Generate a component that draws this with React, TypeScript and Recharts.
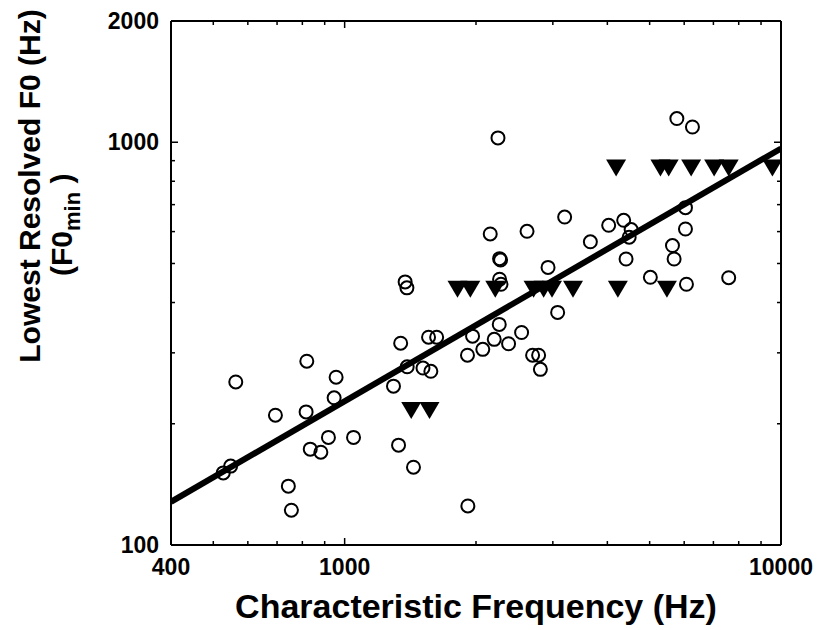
import { ComposedChart, Scatter, Line, XAxis, YAxis } from "recharts";

// open circles: [characteristic frequency (Hz), lowest resolved F0 (Hz)]
const measured: [number, number][] = [
  [563, 254], [527, 151], [548, 157], [694, 210], [819, 286], [816, 214],
  [956, 261], [946, 232], [834, 173], [882, 170], [918, 185], [1048, 185],
  [743, 140], [755, 122], [1344, 317], [1391, 277], [1294, 248], [1329, 177],
  [1438, 156], [1557, 328], [1625, 328], [1512, 275], [1576, 270], [1912, 296],
  [1916, 125], [1376, 450], [1389, 435], [2246, 1025], [5772, 1145], [6267, 1091],
  [3193, 652], [2156, 592], [2618, 601], [4028, 622], [4360, 640], [4535, 607],
  [4488, 581], [3657, 566], [6040, 688], [6040, 609], [5640, 554], [5689, 513],
  [4415, 513], [2265, 514], [2277, 510], [2925, 489], [2265, 457], [2282, 444],
  [5019, 462], [6072, 444], [7588, 461], [3077, 378], [2261, 353], [2544, 337],
  [1964, 330], [2202, 324], [2375, 316], [2073, 306], [2696, 296], [2783, 296],
  [2809, 273],
];

// filled triangles: upper limits
const limitCF = [1421, 1565, 1814, 1941, 2214, 2710, 2858, 2987, 3337, 4228, 5477, 4189, 5293, 5528, 6224, 7027, 7588, 9556];
const limitF0 = [220, 220, 440, 440, 440, 440, 440, 440, 440, 440, 440, 880, 880, 880, 880, 880, 880, 880];

// regression line end points
const fitCF = [400, 10000];
const fitF0 = [128, 965];

const xTicks = [400, 500, 600, 700, 800, 900, 1000, 2000, 3000, 4000, 5000, 6000, 7000, 8000, 9000, 10000];
const yTicks = [100, 200, 300, 400, 500, 600, 700, 800, 900, 1000, 2000];
const xLabels = [400, 1000, 10000];
const yLabels = [100, 1000, 2000];

const circleData = measured.map(([x, y]) => ({ x, y }));
const triData = limitCF.map((x, i) => ({ x, y: limitF0[i] }));
const fitData = fitCF.map((x, i) => ({ x, y: fitF0[i] }));

const FONT = "'Liberation Sans', Arial, Helvetica, sans-serif";
const axisLine = { stroke: "#000", strokeWidth: 2 };

function tickLen(v: number, labels: number[]) {
  return labels.includes(v) ? 7 : 4;
}

const BottomTick = (p: any) => {
  const v = p.payload.value;
  return (
    <g>
      <line x1={p.x} y1={p.y} x2={p.x} y2={p.y - tickLen(v, xLabels)} stroke="#000" strokeWidth={1.5} />
      {xLabels.includes(v) && (
        <text x={p.x} y={p.y + 30} textAnchor="middle" fontFamily={FONT} fontWeight="bold" fontSize={23} fill="#000">
          {v}
        </text>
      )}
    </g>
  );
};

const TopTick = (p: any) => (
  <line x1={p.x} y1={p.y} x2={p.x} y2={p.y + tickLen(p.payload.value, xLabels)} stroke="#000" strokeWidth={1.5} />
);

const LeftTick = (p: any) => {
  const v = p.payload.value;
  return (
    <g>
      <line x1={p.x} y1={p.y} x2={p.x + tickLen(v, yLabels)} y2={p.y} stroke="#000" strokeWidth={1.5} />
      {yLabels.includes(v) && (
        <text x={p.x - 12} y={p.y + 8} textAnchor="end" fontFamily={FONT} fontWeight="bold" fontSize={23} fill="#000">
          {v}
        </text>
      )}
    </g>
  );
};

const RightTick = (p: any) => (
  <line x1={p.x} y1={p.y} x2={p.x - tickLen(p.payload.value, yLabels)} y2={p.y} stroke="#000" strokeWidth={1.5} />
);

const OpenCircle = (p: any) => <circle cx={p.cx} cy={p.cy} r={6.5} fill="none" stroke="#000" strokeWidth={2} />;

const DownTriangle = (p: any) => (
  <path d={`M${p.cx - 10},${p.cy - 5} L${p.cx + 10},${p.cy - 5} L${p.cx},${p.cy + 12} Z`} fill="#000" />
);

const XTitle = (p: any) => {
  const vb = p.viewBox;
  return (
    <text x={vb.x + vb.width / 2} y={vb.y + 73} textAnchor="middle" fontFamily={FONT} fontWeight="bold" fontSize={34} fill="#000">
      Characteristic Frequency (Hz)
    </text>
  );
};

const YTitle = () => (
  <g fontFamily={FONT} fontWeight="bold" fill="#000">
    <text transform="translate(40,186) rotate(-90)" textAnchor="middle" fontSize={30}>
      Lowest Resolved F0 (Hz)
    </text>
    <text transform="translate(72,276) rotate(-90)" textAnchor="start" fontSize={30}>
      (F0
      <tspan fontSize={22} dy={8}>min</tspan>
      <tspan dy={-8}> )</tspan>
    </text>
  </g>
);

export default function App() {
  return (
    <div style={{ position: "absolute", left: 0, top: 0, background: "#fff" }}>
      <ComposedChart width={819} height={630} margin={{ top: 20, right: 37, bottom: 0, left: 0 }}>
        <XAxis
          xAxisId="b"
          type="number"
          dataKey="x"
          scale="log"
          domain={[400, 10000]}
          allowDataOverflow
          ticks={xTicks}
          interval={0}
          height={85}
          tickSize={0}
          tickMargin={0}
          tickLine={false}
          axisLine={axisLine}
          tick={<BottomTick />}
          label={<XTitle />}
        />
        <XAxis
          xAxisId="t"
          orientation="top"
          type="number"
          dataKey="x"
          scale="log"
          domain={[400, 10000]}
          allowDataOverflow
          ticks={xTicks}
          interval={0}
          height={1}
          tickSize={0}
          tickMargin={0}
          tickLine={false}
          axisLine={axisLine}
          tick={<TopTick />}
        />
        <YAxis
          yAxisId="l"
          type="number"
          dataKey="y"
          scale="log"
          domain={[100, 2000]}
          allowDataOverflow
          ticks={yTicks}
          interval={0}
          width={171}
          tickSize={0}
          tickMargin={0}
          tickLine={false}
          axisLine={axisLine}
          tick={<LeftTick />}
        />
        <YAxis
          yAxisId="r"
          orientation="right"
          type="number"
          dataKey="y"
          scale="log"
          domain={[100, 2000]}
          allowDataOverflow
          ticks={yTicks}
          interval={0}
          width={1}
          tickSize={0}
          tickMargin={0}
          tickLine={false}
          axisLine={axisLine}
          tick={<RightTick />}
        />
        <Line
          xAxisId="b"
          yAxisId="l"
          data={fitData}
          dataKey="y"
          stroke="#000"
          strokeWidth={6}
          dot={false}
          isAnimationActive={false}
        />
        <Scatter xAxisId="b" yAxisId="l" data={circleData} shape={<OpenCircle />} isAnimationActive={false} />
        <Scatter xAxisId="b" yAxisId="l" data={triData} shape={<DownTriangle />} isAnimationActive={false} />
      </ComposedChart>
      <svg width={819} height={630} style={{ position: "absolute", left: 0, top: 0, pointerEvents: "none" }}>
        <YTitle />
      </svg>
    </div>
  );
}
